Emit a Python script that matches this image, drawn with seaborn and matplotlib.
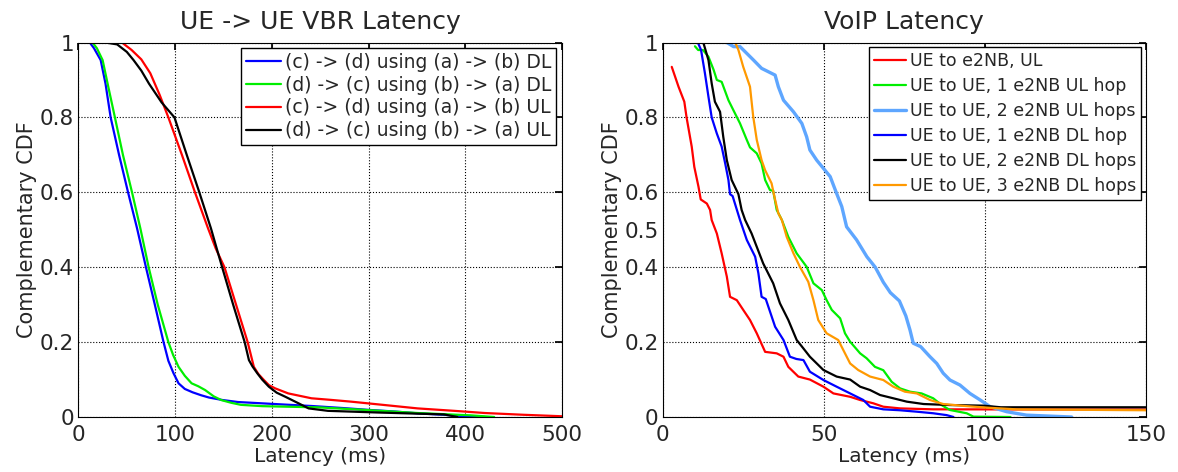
import seaborn as sns
import matplotlib.pyplot as plt
import pandas as pd

# ---- left panel data: UE -> UE VBR latency (ms, complementary CDF)
vbr_labels = ['(c) -> (d) using (a) -> (b) DL', '(d) -> (c) using (b) -> (a) DL',
              '(c) -> (d) using (a) -> (b) UL', '(d) -> (c) using (b) -> (a) UL']
vbr_colors = ['#0000ff', '#00ee00', '#ff0000', '#000000']

cd_dl_x = [11.7, 16, 23, 28, 33.3, 42, 51.3, 60.6, 69.8, 79, 88, 93, 98.3, 103.5, 110, 118, 127, 135,
           148.9, 165, 190, 215, 241.3, 275.5, 300, 327, 350, 378, 400, 420]
cd_dl_y = [1.0, 0.985, 0.953, 0.89, 0.8, 0.7, 0.6, 0.504, 0.4, 0.3, 0.2, 0.15, 0.117, 0.09, 0.075, 0.066,
           0.058, 0.052, 0.0454, 0.04, 0.0365, 0.033, 0.0294, 0.0236, 0.019, 0.0147, 0.01, 0.0058, 0.002, 0.0]
dc_dl_x = [14.5, 19, 25, 31, 37.7, 46, 55.4, 64, 72.6, 82, 93, 98, 103.5, 110, 117, 124, 131, 140, 148,
           158, 168, 190, 207, 248, 296, 350.8, 405.5, 430]
dc_dl_y = [1.0, 0.985, 0.953, 0.88, 0.8, 0.7, 0.6, 0.504, 0.4, 0.3, 0.2, 0.165, 0.134, 0.11, 0.09, 0.082,
           0.072, 0.055, 0.045, 0.038, 0.0325, 0.029, 0.028, 0.0258, 0.019, 0.0107, 0.0045, 0.0]
cd_ul_x = [28, 45, 55, 65, 74.3, 84, 93, 107, 120.5, 134, 142, 151, 163, 175, 181.4, 186, 191.7, 197,
           203.5, 217, 241, 260, 282, 316.6, 350.8, 388.5, 420, 460, 500]
cd_ul_y = [1.0, 1.0, 0.98, 0.955, 0.918, 0.86, 0.8, 0.7, 0.6, 0.504, 0.45, 0.4, 0.3, 0.2, 0.134, 0.115,
           0.099, 0.085, 0.0765, 0.063, 0.05, 0.046, 0.041, 0.032, 0.023, 0.0165, 0.0107, 0.006, 0.002]
dc_ul_x = [28, 40, 50, 57, 65, 73, 86, 99.3, 112, 125, 137, 143, 148.6, 160, 171.9, 176.3, 180, 184.9,
           190, 196.9, 205, 214, 227.6, 238, 258, 310, 350, 378, 392]
dc_ul_y = [1.0, 0.995, 0.975, 0.953, 0.925, 0.89, 0.84, 0.8, 0.7, 0.6, 0.504, 0.45, 0.4, 0.3, 0.2, 0.152,
           0.135, 0.117, 0.1, 0.081, 0.065, 0.054, 0.0366, 0.023, 0.0165, 0.012, 0.009, 0.007, 0.0]

# ---- right panel data: VoIP latency
voip_labels = ['UE to e2NB, UL', 'UE to UE, 1 e2NB UL hop', 'UE to UE, 2 e2NB UL hops',
               'UE to UE, 1 e2NB DL hop', 'UE to UE, 2 e2NB DL hops', 'UE to UE, 3 e2NB DL hops']
voip_colors = ['#ff0000', '#00ee00', '#5ea6ff', '#0000ff', '#000000', '#ff9900']

ul_x = [2.8, 4.9, 6.7, 7.4, 9, 9.8, 11.1, 11.8, 13.7, 14.7, 15.2, 16.8, 18.3, 19.9, 20.9, 23, 25, 27.1,
        29.2, 31.8, 35.4, 37.5, 39, 42.1, 45.7, 49.9, 53, 58.2, 61.3, 65.4, 68.5, 73.7, 84, 150]
ul_y = [0.935, 0.882, 0.842, 0.8, 0.722, 0.668, 0.615, 0.581, 0.57, 0.553, 0.526, 0.49, 0.437, 0.375,
        0.321, 0.312, 0.286, 0.259, 0.2235, 0.174, 0.17, 0.161, 0.134, 0.108, 0.1, 0.081, 0.063, 0.054,
        0.0454, 0.0366, 0.0275, 0.023, 0.0205, 0.02]
ul1_x = [10, 11, 12.5, 14.2, 15.8, 16.8, 18.3, 20.4, 21.9, 24, 26.1, 27.1, 29.2, 30.7, 31.8, 33.3, 34.3,
         35.4, 37, 39, 41.6, 44.7, 46.8, 49.4, 50.9, 52.5, 55.1, 56.6, 58.2, 61.3, 63.3, 65.9, 68.5,
         71.1, 73.7, 76.8, 80.4, 84, 86.6, 89.2, 94.4, 96.5, 108]
ul1_y = [0.99, 0.98, 0.98, 0.962, 0.927, 0.9, 0.895, 0.846, 0.82, 0.784, 0.74, 0.72, 0.704, 0.677, 0.633,
         0.606, 0.604, 0.553, 0.526, 0.481, 0.437, 0.401, 0.357, 0.339, 0.312, 0.286, 0.2635, 0.2235,
         0.201, 0.17, 0.157, 0.134, 0.125, 0.094, 0.0765, 0.0676, 0.063, 0.05, 0.032, 0.0187, 0.01,
         0.001, 0.0]
ul2_x = [19.9, 22, 24, 26.1, 28.2, 30.7, 34.9, 35.9, 37.5, 40.6, 43.2, 44.7, 45.7, 47.8, 49.9, 52, 54,
         55.6, 57.1, 60.2, 63.4, 66, 68.5, 70.7, 73.5, 75.5, 76.8, 77.8, 80.1, 83, 85.1, 87.1, 89.2,
         92.3, 95.4, 98.6, 101.7, 106.8, 113, 127]
ul2_y = [1.0, 0.989, 0.989, 0.971, 0.953, 0.931, 0.913, 0.882, 0.846, 0.815, 0.784, 0.748, 0.713, 0.686,
         0.664, 0.642, 0.597, 0.562, 0.508, 0.473, 0.428, 0.4, 0.36, 0.332, 0.31, 0.27, 0.232, 0.197,
         0.188, 0.161, 0.143, 0.117, 0.0988, 0.0854, 0.063, 0.0454, 0.0275, 0.0142, 0.005, 0.0]
dl1_x = [10.9, 11.9, 13.1, 14.2, 15.2, 16.8, 18.3, 19.4, 20.4, 20.9, 21.7, 24, 26.1, 28.7, 29.7, 30.7,
         32, 34.9, 37.5, 39.5, 41.5, 43.7, 45.7, 49.9, 54, 58.2, 60.3, 62.3, 64.4, 68.5, 73.7, 78.9,
         84, 88.2, 90.3]
dl1_y = [1.0, 0.98, 0.918, 0.855, 0.8, 0.757, 0.722, 0.677, 0.633, 0.595, 0.59, 0.526, 0.473, 0.428,
         0.384, 0.321, 0.315, 0.241, 0.2056, 0.161, 0.155, 0.152, 0.121, 0.0988, 0.081, 0.063, 0.054,
         0.0454, 0.0275, 0.0205, 0.018, 0.0142, 0.01, 0.005, 0.0]
dl2_x = [12.6, 14.2, 15.2, 16.2, 17.8, 18.8, 19.9, 21.4, 23.5, 24.5, 25.6, 27.6, 31.2, 34.3, 36.4, 39,
         41.6, 43.7, 45.7, 49.9, 54, 58.2, 61.3, 64.4, 67.5, 71.6, 75.8, 81, 89.2, 99.6, 105, 150]
dl2_y = [1.0, 0.953, 0.891, 0.842, 0.815, 0.748, 0.686, 0.633, 0.595, 0.553, 0.526, 0.49, 0.41, 0.357,
         0.3036, 0.259, 0.2056, 0.183, 0.161, 0.1255, 0.108, 0.1, 0.081, 0.072, 0.0587, 0.05, 0.041,
         0.0347, 0.032, 0.0303, 0.026, 0.026]
dl3_x = [22.5, 23.5, 25, 27.1, 28.1, 29.2, 30.7, 31.8, 33.8, 34.9, 35.9, 37, 38.5, 40.6, 42.6, 45.2,
         46.8, 48.3, 50.9, 54.5, 56.6, 58.2, 60.7, 64.4, 68.5, 71.6, 75.2, 78.9, 83, 87.1, 94.4, 101.7,
         109.9, 150]
dl3_y = [1.0, 0.98, 0.935, 0.882, 0.802, 0.74, 0.686, 0.659, 0.624, 0.58, 0.544, 0.526, 0.481, 0.437,
         0.401, 0.361, 0.312, 0.259, 0.2235, 0.2056, 0.17, 0.143, 0.1255, 0.108, 0.0988, 0.081, 0.0676,
         0.063, 0.0454, 0.0347, 0.029, 0.0245, 0.0205, 0.018]

sns.set_theme(style='white')
plt.rcParams['font.family'] = ['DejaVu Sans']

fig = plt.figure(figsize=(11.78, 4.72), dpi=100)
ax1 = fig.add_axes([0.0666, 0.1165, 0.4104, 0.7934])
ax2 = fig.add_axes([0.5626, 0.1165, 0.4100, 0.7934])

left_series = [(cd_dl_x, cd_dl_y), (dc_dl_x, dc_dl_y), (cd_ul_x, cd_ul_y), (dc_ul_x, dc_ul_y)]
for (xs, ys), lab, col in zip(left_series, vbr_labels, vbr_colors):
    df = pd.DataFrame({'x': xs, 'y': ys})
    sns.lineplot(data=df, x='x', y='y', ax=ax1, color=col, label=lab, sort=False,
                 estimator=None, linewidth=1.6)

right_series = [(ul_x, ul_y), (ul1_x, ul1_y), (ul2_x, ul2_y), (dl1_x, dl1_y), (dl2_x, dl2_y), (dl3_x, dl3_y)]
for (xs, ys), lab, col in zip(right_series, voip_labels, voip_colors):
    df = pd.DataFrame({'x': xs, 'y': ys})
    lw = 2.4 if col == '#5ea6ff' else 1.6
    sns.lineplot(data=df, x='x', y='y', ax=ax2, color=col, label=lab, sort=False,
                 estimator=None, linewidth=lw)

for ax in (ax1, ax2):
    ax.set_ylim(0, 1)
    ax.grid(True, which='major', color='black', linestyle=':', linewidth=0.8)
    ax.tick_params(which='both', direction='in', top=True, right=True, length=5,
                   color='black', labelsize=15.5)
    ax.tick_params(axis='x', which='both', pad=6)
    ax.tick_params(axis='y', which='both', pad=3)
    for s in ax.spines.values():
        s.set_color('black')
        s.set_linewidth(0.8)
    ax.set_xlabel('Latency (ms)', fontsize=14.5, labelpad=1.5)
    ax.set_ylabel('Complementary CDF', fontsize=15, labelpad=2)

ax1.set_xlim(0, 500)
ax1.set_xticks([0, 100, 200, 300, 400, 500])
ax1.set_yticks([0, 0.2, 0.4, 0.6, 0.8, 1])
ax1.set_yticklabels(['0', '0.2', '0.4', '0.6', '0.8', '1'])
ax1.set_title('UE -> UE VBR Latency', fontsize=18, pad=9.5)
ax1.legend(loc='upper right', fontsize=13.5, frameon=True, fancybox=False, edgecolor='black',
           framealpha=1, borderaxespad=0.3, handlelength=1.9, handletextpad=0.2,
           labelspacing=0.2, borderpad=0.25)

ax2.set_xlim(0, 150)
ax2.set_xticks([0, 50, 100, 150])
ax2.set_xticks([10, 20, 30, 40], minor=True)
ax2.tick_params(axis='x', which='minor', top=False, length=5)
ax2.set_yticks([0, 0.2, 0.4, 0.6, 0.8, 1])
ax2.set_yticklabels(['0', '0.2', '0.4', '0.6', '0.8', '1'])
ax2.set_yticks([0.5], minor=True)
ax2.set_yticklabels(['0.5'], minor=True)
ax2.tick_params(axis='y', which='minor', length=0)
ax2.set_title('VoIP Latency', fontsize=18, pad=9.5)
ax2.legend(loc='upper right', fontsize=12.5, frameon=True, fancybox=False, edgecolor='black',
           framealpha=1, borderaxespad=0.25, handlelength=1.85, handletextpad=0.2,
           labelspacing=0.4, borderpad=0.3)

fig.savefig('out.png', dpi=100)
